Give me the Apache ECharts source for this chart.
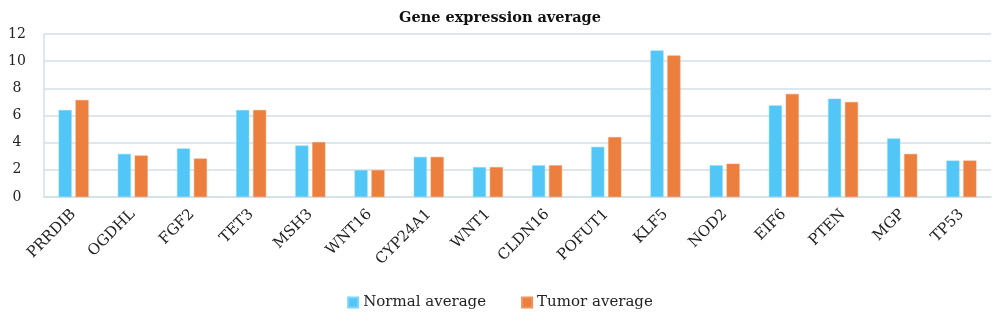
<!DOCTYPE html>
<html>
<head>
<meta charset="utf-8">
<script src="https://cdn.jsdelivr.net/npm/echarts@6/dist/echarts.min.js"></script>
<style>html,body{margin:0;padding:0;background:#fff;}#c{width:1000px;height:326px;}</style>
</head>
<body>
<div id="c"></div>
<script>
const categories = ["PRRDIB","OGDHL","FGF2","TET3","MSH3","WNT16","CYP24A1","WNT1","CLDN16","POFUT1","KLF5","NOD2","EIF6","PTEN","MGP","TP53"];
const normalAvg = [6.4, 3.17, 3.57, 6.4, 3.79, 1.98, 2.95, 2.2, 2.33, 3.69, 10.79, 2.33, 6.74, 7.24, 4.31, 2.68];
const tumorAvg  = [7.14, 3.05, 2.83, 6.4, 4.04, 1.98, 2.95, 2.2, 2.33, 4.41, 10.41, 2.45, 7.59, 6.99, 3.17, 2.68];
const yTicks = {min: 0, max: 12, interval: 2};
const FONT = "DejaVu Serif";
const chart = echarts.init(document.getElementById('c'), null, {renderer: 'canvas'});
chart.setOption({
  animation: false,
  title: {
    text: 'Gene expression average', left: 'center', top: 6,
    textStyle: {fontFamily: FONT, fontWeight: 'bold', fontSize: 14.5, color: '#111'}
  },
  legend: {
    bottom: 11, left: 'center', itemWidth: 10, itemHeight: 10, itemGap: 35,
    icon: 'rect',
    textStyle: {fontFamily: FONT, fontSize: 15, color: '#222'},
    data: ['Normal average', 'Tumor average']
  },
  grid: {left: 44, right: 9, top: 34, bottom: 129, containLabel: false},
  xAxis: {
    type: 'category', data: categories,
    axisLine: {lineStyle: {color: '#d5dfe8', width: 1.5}},
    axisTick: {show: false},
    axisLabel: {rotate: 45, margin: 15, interval: 0, fontFamily: FONT, fontSize: 15, color: '#222'}
  },
  yAxis: {
    type: 'value', min: yTicks.min, max: yTicks.max, interval: yTicks.interval,
    axisLine: {show: true, lineStyle: {color: '#d5dfe8', width: 1.5}},
    axisTick: {show: false},
    splitLine: {lineStyle: {color: '#d5dfe8', width: 1.5}},
    axisLabel: {align: 'center', margin: 27, fontFamily: FONT, fontSize: 14, color: '#222'}
  },
  series: [
    {name: 'Normal average', type: 'bar', data: normalAvg, barWidth: 13, barGap: '30%',
     itemStyle: {color: '#52C6F7', borderColor: '#7DD6FA', borderWidth: 0.5}},
    {name: 'Tumor average', type: 'bar', data: tumorAvg, barWidth: 13,
     itemStyle: {color: '#EC7F3D', borderColor: '#F0925A', borderWidth: 0.5}}
  ]
});
</script>
</body>
</html>
